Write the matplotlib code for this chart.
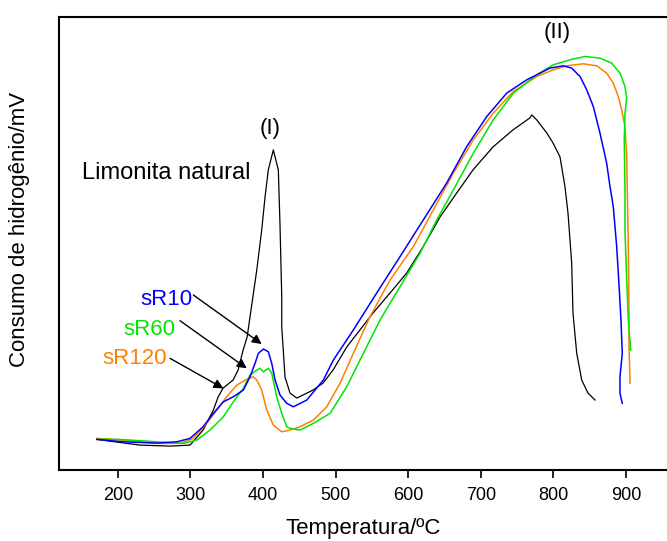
import matplotlib
matplotlib.use('Agg')
import matplotlib.pyplot as plt

plt.rcParams['font.family'] = ['Liberation Sans', 'DejaVu Sans']

# 温度 (°C) 与氢消耗信号 (任意单位)
blackT = [171.1, 230.7, 272.0, 299.6, 317.5, 331.7, 338.2, 345.1, 358.9, 365.8, 372.7, 378.2,
          391.5, 398.3, 402.9, 407.4, 414.3, 421.2, 423.5, 425.9, 425.9, 430.4, 437.3, 446.6,
          469.0, 482.8, 496.6, 515.4, 551.7, 575.1, 598.1, 620.5, 644.0, 667.0, 689.4, 717.0,
          744.5, 767.9, 770.2, 777.1, 790.9, 799.5, 809.2, 816.1, 820.2, 825.3, 827.1, 832.2,
          839.1, 847.8, 857.5]
blackS = [30.7, 25, 24, 25, 40, 60, 73, 82, 90, 100, 120, 133,
          200, 240, 273, 300, 320, 300, 245, 173, 143, 93, 77, 72,
          80, 87, 100, 123, 157, 177, 197, 223, 253, 277, 300, 323,
          340, 352, 355, 350, 337, 327, 313, 283, 257, 207, 157, 117,
          90, 77, 70]

blueT = [171.1, 207.3, 253.7, 281.3, 299.6, 317.5, 331.7, 345.5, 359.2, 373.0, 382.2, 389.1,
         393.7, 400.6, 407.4, 412.1, 416.7, 423.5, 432.8, 441.9, 460.3, 483.2, 497.0, 524.5,
         556.7, 588.8, 620.9, 653.2, 680.7, 708.3, 735.8, 763.4, 795.4, 813.8, 825.3, 836.8,
         846.0, 855.1, 864.3, 873.5, 878.1, 882.6, 887.3, 890.9, 893.2, 895.0, 891.8, 891.8, 895.0]
blueS = [30.7, 28.3, 27, 28.3, 31.7, 43.3, 56.7, 68.3, 73.3, 80, 93.3, 106.7,
         116.7, 121, 118.3, 106.7, 90, 75, 66.7, 63.3, 70, 90, 110, 140,
         177, 213.3, 250, 287, 323.3, 353.3, 376.7, 390, 401.7, 404, 401.7, 393.3,
         380, 363.3, 336.7, 306.7, 283.3, 263.3, 223.3, 180, 150, 116.7, 93.3, 76.7, 66.7]

greenT = [175.6, 203.2, 253.7, 290.4, 308.8, 327.1, 345.5, 359.2, 373.0, 382.2, 391.5, 396.0,
          400.6, 407.4, 412.1, 419.0, 425.9, 432.8, 437.3, 451.1, 469.4, 492.4, 515.4, 533.7,
          561.3, 588.8, 616.4, 639.4, 662.3, 689.8, 717.3, 744.9, 777.1, 800.0, 822.9, 843.6,
          864.3, 880.4, 891.8, 898.7, 901.1, 898.7, 897.7, 898.7, 898.7, 901.1, 903.3, 906.6]
greenS = [31, 30.7, 28.3, 26.7, 30, 40, 53.3, 68.3, 81.7, 95, 100, 101.7,
          98.3, 101.7, 96.7, 73.3, 56.7, 43.3, 41.7, 40, 46.7, 56.7, 83.3, 110,
          150, 183.3, 216.7, 250, 280, 316.7, 350, 376.7, 395, 405, 410, 413.3,
          411.7, 406.7, 396.7, 383.3, 371.7, 356.7, 330, 280, 240, 190, 150, 120]

orangeT = [171.1, 207.7, 253.7, 285.8, 304.1, 322.6, 336.4, 350.1, 363.9, 377.7, 386.8, 391.5,
           398.3, 405.2, 414.3, 425.9, 437.3, 451.1, 469.4, 487.9, 506.1, 524.5, 547.5, 575.1,
           607.2, 634.7, 662.3, 689.8, 717.3, 744.9, 777.1, 800.0, 818.5, 841.3, 859.8, 873.5,
           882.6, 889.5, 894.2, 898.7, 901.1, 901.9, 903.3, 904.3, 904.3, 905.7]
orangeS = [31.7, 30, 26.7, 26.7, 31.7, 46.7, 60, 73.3, 85, 90.7, 93.3, 90,
           80, 60, 45, 38.3, 40, 43.3, 50, 63.3, 86.7, 116.7, 153.3, 190,
           223.3, 260, 296.7, 330, 356.7, 378.3, 393.3, 400, 404, 406, 404, 396.7,
           386.7, 373.3, 360, 343.3, 313.3, 280, 223.3, 156.7, 123.3, 86.7]

xTicks = [200, 300, 400, 500, 600, 700, 800, 900]

fig = plt.figure(figsize=(6.67, 5.41), dpi=100, facecolor='white')
ax = fig.add_axes([0.0885, 0.131, 0.9115, 0.838])

ax.plot(blackT, blackS, color='black', lw=0.9)
ax.plot(orangeT, orangeS, color='#ff8000', lw=1.1)
ax.plot(greenT, greenS, color='#00e600', lw=1.1)
ax.plot(blueT, blueS, color='#0000ff', lw=1.1)

ax.set_xlim(119.1, 956.6)
ax.set_ylim(0, 453)
ax.set_xticks(xTicks)
ax.set_yticks([])
ax.tick_params(axis='x', direction='out', length=6, width=1.2, labelsize=13, pad=6)
ax.spines['right'].set_visible(False)
for side in ['left', 'top', 'bottom']:
    ax.spines[side].set_linewidth(1.5)

ax.set_xlabel('Temperatura/ºC', fontsize=16, labelpad=10)
ax.set_ylabel('Consumo de hidrogênio/mV', fontsize=16)
ax.yaxis.set_label_coords(-0.047, 0.53)

# 峰标记与样品标签
ax.text(409.8, 341, '(I)', fontsize=16, ha='center', va='center')
ax.text(805.3, 437, '(II)', fontsize=16, ha='center', va='center')
ax.text(150.4, 297, 'Limonita natural', fontsize=17, ha='left', va='center')

arrowArgs = dict(arrowstyle='-|>', color='black', lw=1.0, mutation_scale=14,
                 shrinkA=0, shrinkB=0)
ax.text(303.3, 170, 'sR10', color='#0000ff', fontsize=16, ha='right', va='center')
ax.annotate('', xy=(398.3, 126), xytext=(304.1, 175), arrowprops=arrowArgs)
ax.text(278.9, 140.7, 'sR60', color='#00e600', fontsize=16, ha='right', va='center')
ax.annotate('', xy=(377.7, 101.7), xytext=(285.8, 149.3), arrowprops=arrowArgs)
ax.text(267.5, 111.7, 'sR120', color='#ff8000', fontsize=16, ha='right', va='center')
ax.annotate('', xy=(345.5, 81.7), xytext=(272.0, 111.7), arrowprops=arrowArgs)

fig.savefig('out.png', dpi=100)
